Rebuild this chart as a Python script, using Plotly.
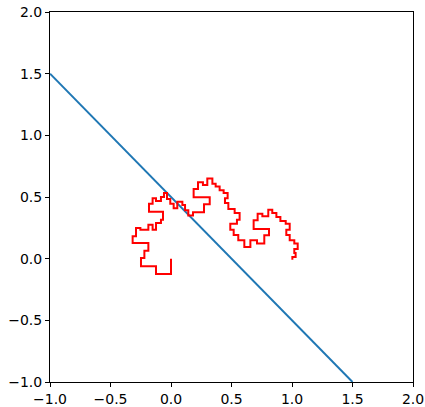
import plotly.graph_objects as go

# Diagonal line
line_x = [-1.0, 1.5]
line_y = [1.5, -1.0]

# Red curve vertices
curve_x = [0, 0, -0.124, -0.124, -0.248, -0.248, -0.220, -0.220, -0.187, -0.187,
           -0.317, -0.317, -0.289, -0.289, -0.253, -0.253, -0.187, -0.187, -0.152, -0.152,
           -0.124, -0.124, -0.083, -0.083, -0.066, -0.066, -0.182, -0.182, -0.152, -0.152,
           -0.124, -0.124, -0.083, -0.083, -0.058, -0.058, -0.033, -0.033, -0.006, -0.006,
           0.022, 0.022, 0.052, 0.052, 0.094, 0.094, 0.116, 0.116, 0.143, 0.143,
           0.182, 0.182, 0.273, 0.273, 0.320, 0.320, 0.187, 0.187, 0.223, 0.223,
           0.264, 0.264, 0.300, 0.300, 0.342, 0.342, 0.369, 0.369, 0.402, 0.402,
           0.435, 0.435, 0.468, 0.468, 0.446, 0.446, 0.474, 0.474, 0.526, 0.526,
           0.567, 0.567, 0.545, 0.545, 0.490, 0.490, 0.518, 0.518, 0.556, 0.556,
           0.606, 0.606, 0.656, 0.656, 0.711, 0.711, 0.771, 0.771, 0.810, 0.810,
           0.683, 0.683, 0.716, 0.716, 0.755, 0.755, 0.804, 0.804, 0.837, 0.837,
           0.871, 0.871, 0.904, 0.904, 0.948, 0.948, 0.981, 0.981, 0.953, 0.953,
           0.981, 0.981, 1.019, 1.019, 1.047, 1.047, 1.019, 1.019, 1.030, 1.030,
           1.003, 1.003]
curve_y = [0, -0.124, -0.124, -0.062, -0.062, 0.005, 0.005, 0.065, 0.065, 0.127,
           0.127, 0.181, 0.181, 0.249, 0.249, 0.235, 0.235, 0.276, 0.276, 0.235,
           0.235, 0.289, 0.289, 0.316, 0.316, 0.381, 0.381, 0.446, 0.446, 0.489,
           0.489, 0.468, 0.468, 0.500, 0.500, 0.532, 0.532, 0.484, 0.484, 0.446,
           0.446, 0.408, 0.408, 0.462, 0.462, 0.435, 0.435, 0.392, 0.392, 0.349,
           0.349, 0.376, 0.376, 0.441, 0.441, 0.497, 0.497, 0.565, 0.565, 0.619,
           0.619, 0.597, 0.597, 0.651, 0.651, 0.608, 0.608, 0.586, 0.586, 0.554,
           0.554, 0.532, 0.532, 0.489, 0.489, 0.451, 0.451, 0.403, 0.403, 0.370,
           0.370, 0.316, 0.316, 0.284, 0.284, 0.235, 0.235, 0.192, 0.192, 0.149,
           0.149, 0.095, 0.095, 0.149, 0.149, 0.122, 0.122, 0.189, 0.189, 0.241,
           0.241, 0.311, 0.311, 0.365, 0.365, 0.343, 0.343, 0.397, 0.397, 0.370,
           0.370, 0.338, 0.338, 0.305, 0.305, 0.284, 0.284, 0.235, 0.235, 0.192,
           0.192, 0.149, 0.149, 0.122, 0.122, 0.078, 0.078, 0.046, 0.046, 0.014,
           0.014, -0.008]

tick_vals = [-1.0, -0.5, 0.0, 0.5, 1.0, 1.5, 2.0]
tick_text = ["\u22121.0", "\u22120.5", "0.0", "0.5", "1.0", "1.5", "2.0"]

fig = go.Figure()
fig.add_trace(go.Scatter(x=line_x, y=line_y, mode="lines",
                         line=dict(color="#1f77b4", width=2), showlegend=False))
fig.add_trace(go.Scatter(x=curve_x, y=curve_y, mode="lines",
                         line=dict(color="red", width=2), showlegend=False))

axis_common = dict(range=[-1, 2], tickvals=tick_vals, ticktext=tick_text,
                   showgrid=False, zeroline=False, showline=True, linecolor="black",
                   linewidth=1, mirror=True, ticks="outside", ticklen=4,
                   tickcolor="black", tickwidth=1, automargin=False,
                   tickfont=dict(family="DejaVu Sans", size=14, color="black"))

fig.update_layout(
    width=425, height=407, autosize=False,
    margin=dict(l=50, r=12, t=12, b=25),
    paper_bgcolor="white", plot_bgcolor="white",
    xaxis=axis_common, yaxis=axis_common,
)

fig.write_html("out.html", config={"displayModeBar": False},
               post_script="document.body.style.margin='0';"
                           "document.body.style.overflow='hidden';")
